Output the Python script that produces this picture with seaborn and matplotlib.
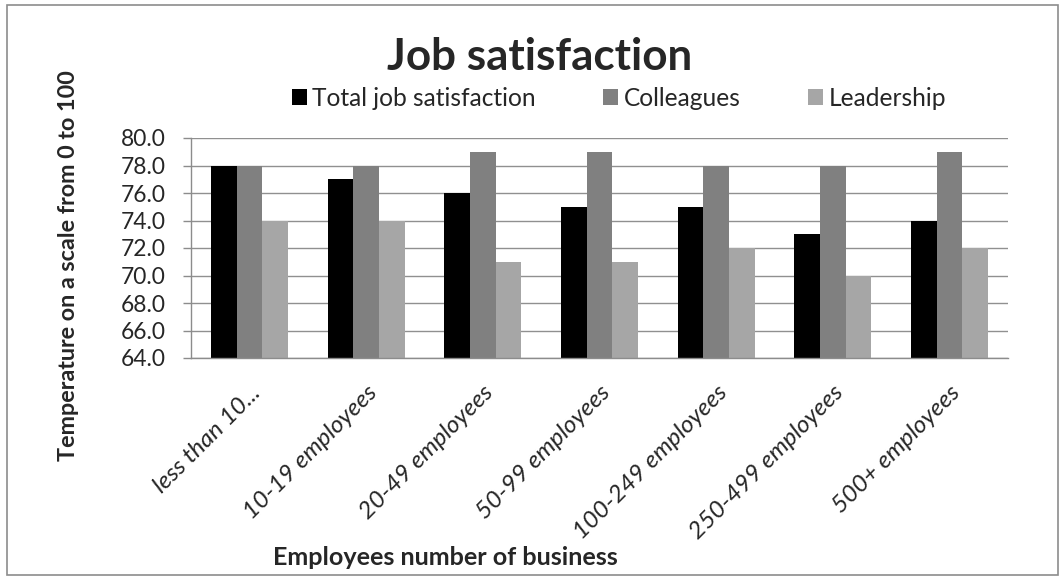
import matplotlib
matplotlib.use("Agg")
import matplotlib.pyplot as plt
from matplotlib.patches import Rectangle, Patch
import seaborn as sns
import pandas as pd
import numpy as np

categories = ["less than 10...", "10-19 employees", "20-49 employees", "50-99 employees",
              "100-249 employees", "250-499 employees", "500+ employees"]
series_names = ["Total job satisfaction", "Colleagues", "Leadership"]
total_job = [78, 77, 76, 75, 75, 73, 74]
colleagues = [78, 78, 79, 79, 78, 78, 79]
leadership = [74, 74, 71, 71, 72, 70, 72]
y_ticks = [64, 66, 68, 70, 72, 74, 76, 78, 80]
colors = ["#000000", "#808080", "#a6a6a6"]

rows = []
for name, vals in zip(series_names, [total_job, colleagues, leadership]):
    for c, v in zip(categories, vals):
        rows.append({"category": c, "series": name, "value": v})
df = pd.DataFrame(rows)

sns.set_style("white")
FONT = ['Lato', 'DejaVu Sans']
plt.rcParams['font.family'] = FONT

W, H, DPI = 1059, 576, 100
fig = plt.figure(figsize=(W / DPI, H / DPI), dpi=DPI)
renderer = fig.canvas.get_renderer()


def fit_size(text, target_px, **kw):
    t = fig.text(0, 0, text, fontsize=20, **kw)
    w = t.get_window_extent(renderer).width
    t.remove()
    return 20 * target_px / w


def px(x, y):
    return x / W, 1 - y / H


ax = fig.add_axes([191 / W, 1 - 358 / H, (1008 - 191) / W, (358 - 138) / H])

sns.barplot(data=df, x="category", y="value", hue="series", order=categories,
            hue_order=series_names, palette=colors, width=0.66, gap=0,
            saturation=1, ax=ax, legend=False, edgecolor="none", linewidth=0)

ax.set_ylim(64, 80)
ax.set_xlim(-0.5, len(categories) - 0.5)
ax.set_yticks(y_ticks)
ytick_fs = fit_size("78.0", 45)
ax.set_yticklabels([f"{t:.1f}" for t in y_ticks], fontsize=ytick_fs)
ax.yaxis.grid(True, color="#909090", linewidth=1.0)
ax.set_axisbelow(True)
for s in ["top", "right"]:
    ax.spines[s].set_visible(False)
for s in ["left", "bottom"]:
    ax.spines[s].set_color("#8c8c8c")
    ax.spines[s].set_linewidth(1.0)

ax.set_xticks(np.arange(-0.5, len(categories), 1.0), minor=True)
ax.tick_params(axis="x", which="minor", length=7 * 0.72, color="#8c8c8c", width=1)
ax.tick_params(axis="y", which="major", length=8 * 0.72, color="#8c8c8c", width=1,
               pad=17 * 0.72, left=True)

xtick_fs = fit_size("10-19 employees", 178, style="italic")
ax.set_xticks(range(len(categories)))
ax.tick_params(axis="x", which="major", length=0, pad=24 * 0.72)
ax.set_xticklabels(categories, rotation=45, ha="right", rotation_mode="anchor",
                   fontsize=xtick_fs, style="italic", va="top")

ax.set_xlabel("")
ax.set_ylabel("")

title_fs = fit_size("Job satisfaction", 305, fontweight="bold")
fig.text(*px(540, 70), "Job satisfaction", ha="center", va="baseline",
         fontsize=title_fs, fontweight="bold")

ylab = "Temperature on a scale from 0 to 100"
ylab_fs = fit_size(ylab, 392, fontweight="bold")
fig.text(*px(69, 266), ylab, rotation=90, ha="center", va="center",
         fontsize=ylab_fs, fontweight="bold")

xlab = "Employees number of business"
xlab_fs = fit_size(xlab, 345, fontweight="bold")
fig.text(*px(273, 565), xlab, ha="left", va="baseline",
         fontsize=xlab_fs, fontweight="bold")

leg_fs = fit_size("Total job satisfaction", 224)
fs_px = leg_fs / 72 * DPI
handles = [Patch(facecolor=c, edgecolor="none") for c in colors]
fig.legend(handles, series_names, loc="center", bbox_to_anchor=px(619, 98),
           ncol=3, frameon=False, fontsize=leg_fs,
           handlelength=15 / fs_px, handleheight=15 / fs_px,
           handletextpad=6 / fs_px, columnspacing=67 / fs_px,
           borderpad=0, borderaxespad=0)

fig.patches.append(Rectangle(px(7, 575), (1058 - 7) / W, (575 - 5) / H,
                             transform=fig.transFigure, fill=False,
                             edgecolor="#8c8c8c", linewidth=1.2))

fig.savefig("out.png", dpi=DPI, facecolor="white")
